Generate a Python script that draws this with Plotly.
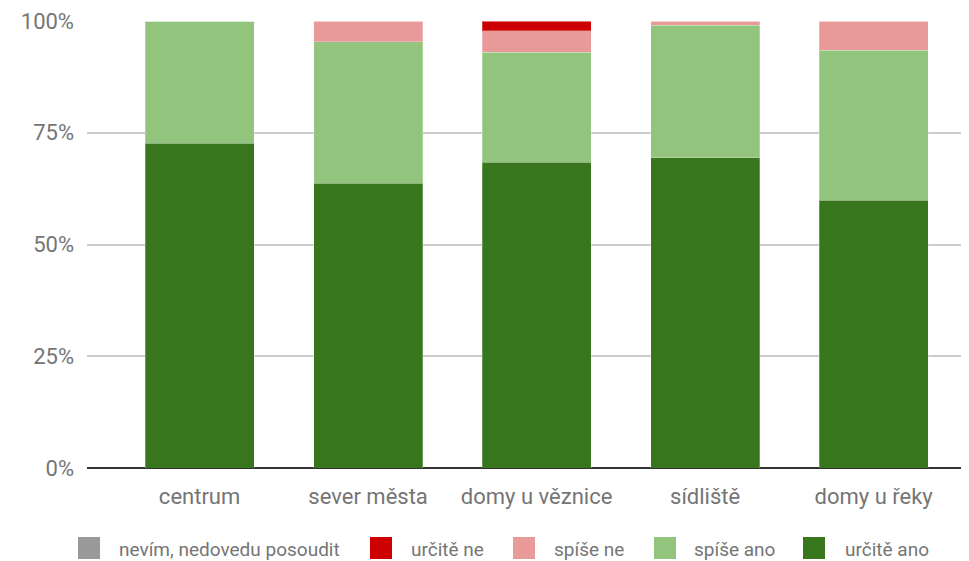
import plotly.graph_objects as go

categories = ["centrum", "sever města", "domy u věznice", "sídliště", "domy u řeky"]
urcite_ano = [72.6, 63.7, 68.4, 69.4, 59.9]
spise_ano = [27.4, 31.7, 24.6, 29.7, 33.6]
spise_ne = [0.0, 4.6, 4.8, 0.9, 6.5]
urcite_ne = [0.0, 0.0, 2.2, 0.0, 0.0]
nevim = [0.0, 0.0, 0.0, 0.0, 0.0]
tick_vals = [0, 25, 50, 75, 100]
tick_text = ["0%", "25%", "50%", "75%", "100%"]

series = [
    ("určitě ano", urcite_ano, "#38761d"),
    ("spíše ano", spise_ano, "#93c47d"),
    ("spíše ne", spise_ne, "#ea9999"),
    ("určitě ne", urcite_ne, "#cc0000"),
    ("nevím, nedovedu posoudit", nevim, "#999999"),
]

# page body has an 8px default margin; work in window pixels and offset
OFF = 8
W, H = 969 - OFF, 561 - OFF
ML, MR, MT, MB = 87 - OFF, 0, 21 - OFF, 93
PW, PH = W - ML - MR, H - MT - MB

def px(xp):
    return (xp - OFF - ML) / PW

def py(yp):
    return (H - MB - (yp - OFF)) / PH

fig = go.Figure()
for name, vals, color in series:
    fig.add_trace(go.Bar(
        x=categories, y=vals, name=name,
        marker=dict(color=color, line=dict(color="rgba(255,255,255,0.25)", width=1)),
        width=0.647, showlegend=False,
    ))

font = "Roboto, sans-serif"

legend_items = list(reversed(series))
box_left = [78, 370, 513, 654, 803]
text_left = [117, 409, 552, 692, 843]
shapes = []
annotations = []
for (name, _, color), bx, tx in zip(legend_items, box_left, text_left):
    shapes.append(dict(type="rect", xref="paper", yref="paper",
                       x0=px(bx), x1=px(bx + 22), y0=py(559), y1=py(537),
                       fillcolor=color, line=dict(width=0), layer="above"))
    annotations.append(dict(xref="paper", yref="paper", x=px(tx), y=py(549),
                            xanchor="left", yanchor="middle", text=name,
                            showarrow=False,
                            font=dict(size=19, color="#757575", family=font)))

fig.update_layout(
    barmode="stack",
    width=W, height=H,
    margin=dict(l=ML, r=MR, t=MT, b=MB, autoexpand=False),
    paper_bgcolor="white", plot_bgcolor="white",
    font=dict(family=font, color="#757575", size=22),
    showlegend=False,
    shapes=shapes,
    annotations=annotations,
    xaxis=dict(
        range=[-0.668, 4.566], showgrid=False, ticks="",
        tickfont=dict(size=22, color="#757575"),
        showline=False, zeroline=False, ticklabelstandoff=13,
    ),
    yaxis=dict(
        range=[0, 100], tickvals=tick_vals, ticktext=tick_text,
        showgrid=True, gridcolor="#cccccc", gridwidth=1.5,
        zeroline=True, zerolinecolor="#333333", zerolinewidth=2,
        ticks="", ticklabelstandoff=12,
        tickfont=dict(size=22, color="#757575"),
    ),
)

fig.write_html("out.html")
